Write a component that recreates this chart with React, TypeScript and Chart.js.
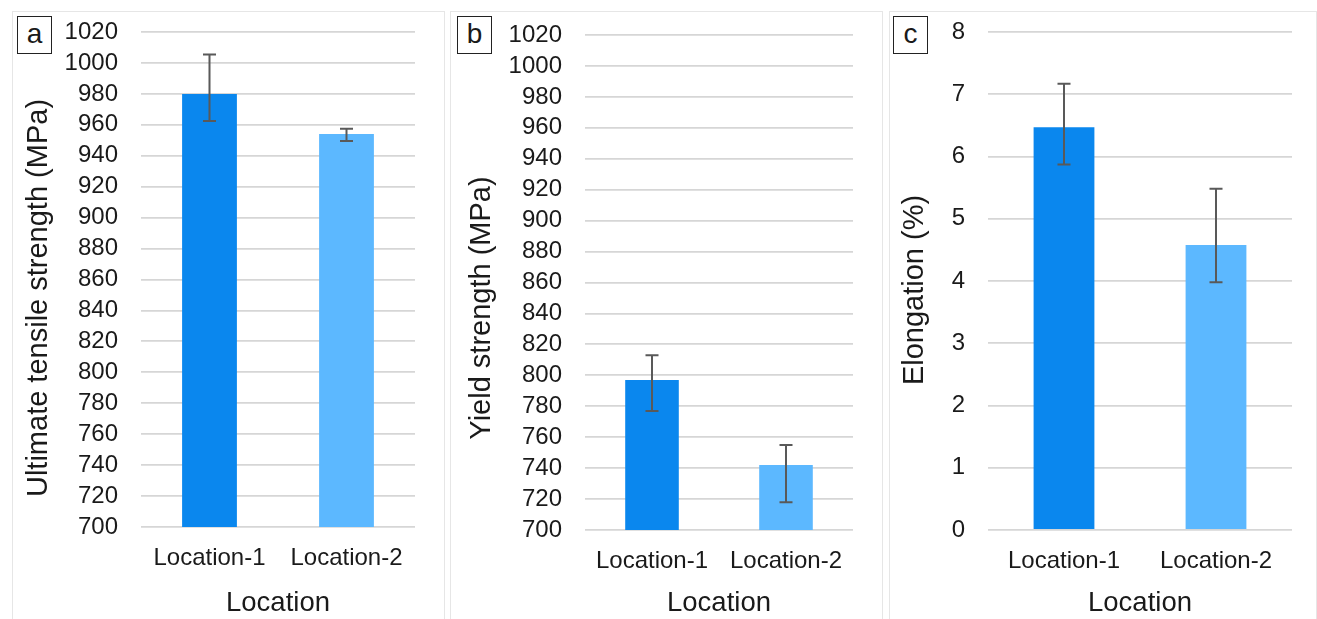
import React, { useEffect, useRef } from 'react';
import { Chart, registerables } from 'chart.js';
Chart.register(...registerables);

const categories = ['Location-1', 'Location-2'];
const barColors = ['#0a87ee', '#5cb8ff'];

const utsValues = [980, 954];
const utsErrLow = [962.5, 949.5];
const utsErrHigh = [1005.5, 957.5];
const utsTicks = { min: 700, max: 1020, step: 20 };

const ysValues = [797, 742];
const ysErrLow = [777, 718];
const ysErrHigh = [813, 755];
const ysTicks = { min: 700, max: 1020, step: 20 };

const elValues = [6.47, 4.58];
const elErrLow = [5.87, 3.98];
const elErrHigh = [7.17, 5.48];
const elTicks = { min: 0, max: 8, step: 1 };

const FONT = "'Liberation Sans', Arial, sans-serif";
const TEXT = '#1a1a1a';

type PanelCfg = {
  letter: string;
  yTitle: string;
  values: number[];
  low: number[];
  high: number[];
  ticks: { min: number; max: number; step: number };
  left: number;
  width: number;
  chartLeft: number;
  chartRight: number;
  chartTop: number;
  chartBottom: number;
  titleX: number;
  titleY: number;
  boxLeft: number;
};

const PANEL_TOP = 11;
const PANEL_H = 620;

function Panel({ cfg }: { cfg: PanelCfg }) {
  const ref = useRef<HTMLCanvasElement | null>(null);
  useEffect(() => {
    if (!ref.current) return;
    const canvasH = PANEL_H - 12;
    const extras = {
      id: 'extras',
      afterDatasetsDraw(chart: any) {
        const { ctx } = chart;
        const meta = chart.getDatasetMeta(0);
        const ys = chart.scales.y;
        ctx.save();
        ctx.strokeStyle = '#595959';
        ctx.lineWidth = 2;
        meta.data.forEach((el: any, i: number) => {
          const x = el.x;
          const yt = ys.getPixelForValue(cfg.high[i]);
          const yb = ys.getPixelForValue(cfg.low[i]);
          const cap = 6.5;
          ctx.beginPath();
          ctx.moveTo(x, yt);
          ctx.lineTo(x, yb);
          ctx.moveTo(x - cap, yt);
          ctx.lineTo(x + cap, yt);
          ctx.moveTo(x - cap, yb);
          ctx.lineTo(x + cap, yb);
          ctx.stroke();
        });
        ctx.restore();
      },
      afterDraw(chart: any) {
        const { ctx } = chart;
        ctx.save();
        ctx.translate(cfg.titleX, cfg.titleY);
        ctx.rotate(-Math.PI / 2);
        ctx.fillStyle = TEXT;
        ctx.font = `29px ${FONT}`;
        ctx.textAlign = 'center';
        ctx.textBaseline = 'middle';
        ctx.fillText(cfg.yTitle, 0, 0);
        ctx.restore();
      },
    };
    const chart = new Chart(ref.current, {
      type: 'bar',
      data: {
        labels: categories,
        datasets: [
          {
            data: cfg.values,
            backgroundColor: barColors,
            barPercentage: 0.4,
            categoryPercentage: 1,
          },
        ],
      },
      options: {
        animation: false,
        responsive: false,
        maintainAspectRatio: false,
        layout: {
          padding: { top: cfg.chartTop, right: cfg.width - 2 - cfg.chartRight, left: 0, bottom: 0 },
        },
        plugins: { legend: { display: false }, tooltip: { enabled: false } },
        scales: {
          x: {
            grid: { display: false, drawTicks: false },
            border: { display: false },
            ticks: { color: TEXT, font: { family: FONT, size: 24 }, padding: 17 },
            title: {
              display: true,
              text: 'Location',
              color: TEXT,
              font: { family: FONT, size: 27.5 },
              padding: { top: 0, bottom: 0 },
            },
            afterFit: (s: any) => {
              s.height = canvasH - cfg.chartBottom;
            },
          },
          y: {
            min: cfg.ticks.min,
            max: cfg.ticks.max,
            grid: { color: '#d6d6d6', lineWidth: 1.8, drawTicks: false },
            border: { display: false },
            ticks: {
              stepSize: cfg.ticks.step,
              autoSkip: false,
              color: TEXT,
              font: { family: FONT, size: 24 },
              padding: 23,
              callback: (v: any) => String(v),
            },
            title: { display: false },
            afterFit: (s: any) => {
              s.width = cfg.chartLeft;
              s.paddingTop = 0;
              s.paddingBottom = 0;
            },
          },
        },
      },
      plugins: [extras],
    });
    return () => chart.destroy();
  }, [cfg]);

  return (
    <div
      style={{
        position: 'absolute',
        left: cfg.left,
        top: PANEL_TOP,
        width: cfg.width,
        height: PANEL_H,
        border: '1px solid #e6e6e6',
        boxSizing: 'border-box',
        background: '#fff',
      }}
    >
      <canvas
        ref={ref}
        width={cfg.width - 2}
        height={PANEL_H - 12}
        style={{ position: 'absolute', left: 0, top: 0, width: cfg.width - 2, height: PANEL_H - 12 }}
      />
      <div
        style={{
          position: 'absolute',
          left: cfg.boxLeft,
          top: 4,
          width: 35,
          height: 38,
          border: '1.5px solid #222',
          boxSizing: 'border-box',
          fontFamily: FONT,
          fontSize: 28,
          lineHeight: '34px',
          textAlign: 'center',
          color: TEXT,
          background: '#fff',
        }}
      >
        {cfg.letter}
      </div>
    </div>
  );
}

const panels: PanelCfg[] = [
  {
    letter: 'a',
    yTitle: 'Ultimate tensile strength (MPa)',
    values: utsValues,
    low: utsErrLow,
    high: utsErrHigh,
    ticks: utsTicks,
    left: 12,
    width: 433,
    chartLeft: 128,
    chartRight: 402,
    chartTop: 20,
    chartBottom: 515,
    titleX: 26,
    titleY: 286,
    boxLeft: 4,
  },
  {
    letter: 'b',
    yTitle: 'Yield strength (MPa)',
    values: ysValues,
    low: ysErrLow,
    high: ysErrHigh,
    ticks: ysTicks,
    left: 450,
    width: 433,
    chartLeft: 134,
    chartRight: 402,
    chartTop: 23,
    chartBottom: 518,
    titleX: 31,
    titleY: 296,
    boxLeft: 6,
  },
  {
    letter: 'c',
    yTitle: 'Elongation (%)',
    values: elValues,
    low: elErrLow,
    high: elErrHigh,
    ticks: elTicks,
    left: 889,
    width: 428,
    chartLeft: 98,
    chartRight: 402,
    chartTop: 20,
    chartBottom: 518,
    titleX: 25,
    titleY: 278,
    boxLeft: 3,
  },
];

export default function App() {
  return (
    <div style={{ position: 'fixed', left: 0, top: 0, width: 1317, height: 619, background: '#fff', overflow: 'hidden' }}>
      {panels.map((p) => (
        <Panel key={p.letter} cfg={p} />
      ))}
    </div>
  );
}
